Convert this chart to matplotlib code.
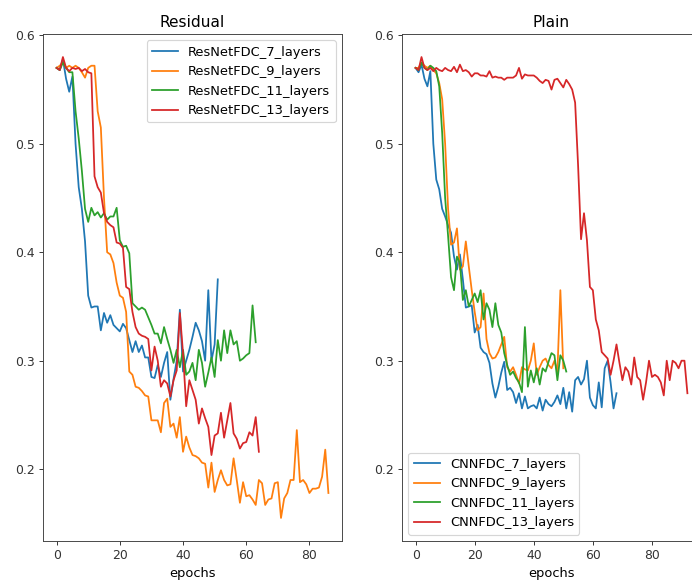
import matplotlib
matplotlib.use("Agg")
import matplotlib.pyplot as plt

# ---------------- data ----------------
res_7 = [0.570, 0.568, 0.578, 0.560, 0.548, 0.562, 0.500, 0.460, 0.440, 0.410,
         0.360, 0.349, 0.350, 0.350, 0.328, 0.344, 0.335, 0.342, 0.333, 0.330,
         0.327, 0.334, 0.330, 0.319, 0.308, 0.318, 0.308, 0.314, 0.303, 0.303,
         0.285, 0.284, 0.296, 0.285, 0.298, 0.308, 0.264, 0.283, 0.300, 0.347,
         0.290, 0.300, 0.310, 0.322, 0.335, 0.328, 0.318, 0.300, 0.365, 0.300,
         0.315, 0.375]

res_9 = [0.570, 0.572, 0.575, 0.570, 0.572, 0.570, 0.572, 0.570, 0.566, 0.561,
         0.570, 0.572, 0.572, 0.530, 0.515, 0.450, 0.400, 0.398, 0.390, 0.372,
         0.360, 0.358, 0.345, 0.290, 0.287, 0.276, 0.275, 0.272, 0.268, 0.267,
         0.245, 0.245, 0.245, 0.234, 0.261, 0.265, 0.239, 0.242, 0.229, 0.248,
         0.216, 0.230, 0.220, 0.213, 0.212, 0.210, 0.206, 0.205, 0.183, 0.206,
         0.179, 0.190, 0.199, 0.190, 0.185, 0.186, 0.210, 0.190, 0.169, 0.188,
         0.175, 0.176, 0.172, 0.167, 0.190, 0.187, 0.167, 0.172, 0.173, 0.187,
         0.188, 0.155, 0.173, 0.178, 0.190, 0.190, 0.236, 0.188, 0.190, 0.186,
         0.178, 0.182, 0.182, 0.183, 0.193, 0.218, 0.178]

res_11 = [0.570, 0.568, 0.575, 0.570, 0.566, 0.566, 0.530, 0.505, 0.475, 0.440,
          0.428, 0.441, 0.434, 0.437, 0.432, 0.436, 0.430, 0.433, 0.433, 0.441,
          0.411, 0.405, 0.406, 0.399, 0.353, 0.350, 0.347, 0.349, 0.347, 0.340,
          0.333, 0.325, 0.325, 0.316, 0.331, 0.320, 0.310, 0.298, 0.310, 0.294,
          0.310, 0.287, 0.290, 0.298, 0.282, 0.310, 0.298, 0.276, 0.289, 0.303,
          0.285, 0.319, 0.300, 0.328, 0.307, 0.328, 0.315, 0.318, 0.300, 0.302,
          0.305, 0.307, 0.351, 0.317]

res_13 = [0.570, 0.568, 0.580, 0.570, 0.567, 0.570, 0.569, 0.570, 0.567, 0.569,
          0.566, 0.565, 0.470, 0.460, 0.455, 0.436, 0.428, 0.425, 0.423, 0.409,
          0.408, 0.404, 0.368, 0.366, 0.345, 0.331, 0.325, 0.323, 0.322, 0.320,
          0.291, 0.313, 0.300, 0.276, 0.282, 0.279, 0.267, 0.282, 0.291, 0.344,
          0.307, 0.258, 0.282, 0.273, 0.264, 0.242, 0.256, 0.247, 0.239, 0.213,
          0.231, 0.233, 0.252, 0.229, 0.245, 0.261, 0.233, 0.228, 0.219, 0.224,
          0.225, 0.234, 0.231, 0.248, 0.216]

cnn_7 = [0.570, 0.566, 0.573, 0.560, 0.553, 0.567, 0.500, 0.467, 0.458, 0.440,
         0.433, 0.425, 0.418, 0.396, 0.384, 0.398, 0.375, 0.349, 0.350, 0.351,
         0.326, 0.333, 0.312, 0.308, 0.306, 0.298, 0.279, 0.266, 0.276, 0.289,
         0.299, 0.273, 0.275, 0.271, 0.261, 0.270, 0.256, 0.267, 0.256, 0.258,
         0.259, 0.256, 0.266, 0.254, 0.264, 0.260, 0.258, 0.262, 0.268, 0.260,
         0.275, 0.256, 0.271, 0.253, 0.282, 0.285, 0.278, 0.283, 0.300, 0.266,
         0.259, 0.256, 0.280, 0.257, 0.293, 0.300, 0.280, 0.256, 0.270]

cnn_9 = [0.570, 0.570, 0.575, 0.572, 0.570, 0.572, 0.568, 0.565, 0.556, 0.541,
         0.500, 0.440, 0.407, 0.409, 0.422, 0.384, 0.387, 0.410, 0.387, 0.365,
         0.345, 0.328, 0.331, 0.362, 0.320, 0.307, 0.302, 0.303, 0.308, 0.315,
         0.322, 0.294, 0.290, 0.294, 0.287, 0.279, 0.294, 0.292, 0.291, 0.300,
         0.316, 0.287, 0.294, 0.300, 0.302, 0.296, 0.293, 0.300, 0.290, 0.365,
         0.293]

cnn_11 = [0.570, 0.568, 0.575, 0.570, 0.568, 0.572, 0.570, 0.567, 0.553, 0.510,
          0.450, 0.415, 0.377, 0.365, 0.396, 0.390, 0.356, 0.365, 0.350, 0.356,
          0.362, 0.354, 0.365, 0.338, 0.353, 0.347, 0.331, 0.353, 0.333, 0.326,
          0.307, 0.296, 0.287, 0.290, 0.284, 0.280, 0.271, 0.331, 0.276, 0.291,
          0.280, 0.293, 0.278, 0.293, 0.290, 0.299, 0.307, 0.305, 0.282, 0.305,
          0.300, 0.290]

cnn_13 = [0.570, 0.568, 0.580, 0.570, 0.568, 0.570, 0.567, 0.570, 0.568, 0.567,
          0.570, 0.568, 0.567, 0.571, 0.566, 0.573, 0.567, 0.568, 0.566, 0.562,
          0.565, 0.565, 0.563, 0.563, 0.562, 0.567, 0.561, 0.562, 0.561, 0.561,
          0.559, 0.561, 0.561, 0.561, 0.563, 0.570, 0.560, 0.564, 0.563, 0.563,
          0.563, 0.561, 0.558, 0.556, 0.559, 0.558, 0.550, 0.559, 0.560, 0.556,
          0.552, 0.559, 0.555, 0.550, 0.538, 0.480, 0.412, 0.436, 0.411, 0.368,
          0.365, 0.338, 0.328, 0.308, 0.305, 0.302, 0.287, 0.300, 0.315, 0.298,
          0.282, 0.294, 0.290, 0.278, 0.303, 0.285, 0.282, 0.264, 0.280, 0.300,
          0.285, 0.287, 0.285, 0.280, 0.268, 0.300, 0.282, 0.300, 0.298, 0.293,
          0.300, 0.300, 0.270]

residual_series = [res_7, res_9, res_11, res_13]
residual_labels = ["ResNetFDC_7_layers", "ResNetFDC_9_layers",
                   "ResNetFDC_11_layers", "ResNetFDC_13_layers"]
plain_series = [cnn_7, cnn_9, cnn_11, cnn_13]
plain_labels = ["CNNFDC_7_layers", "CNNFDC_9_layers",
                "CNNFDC_11_layers", "CNNFDC_13_layers"]

# ---------------- figure ----------------
DPI = 85
fig = plt.figure(figsize=(692 / DPI, 582 / DPI), dpi=DPI)

W, H = 692.0, 582.0
ax1 = fig.add_axes([43 / W, (H - 541) / H, 299 / W, 507 / H])
ax2 = fig.add_axes([402 / W, (H - 541) / H, 299 / W, 507 / H], sharey=ax1)

for s, lab in zip(residual_series, residual_labels):
    ax1.plot(range(len(s)), s, label=lab)
ax1.set_title("Residual", fontsize=13)
ax1.set_xlabel("epochs", fontsize=11)
ax1.legend(loc="upper right", fontsize=11)

for s, lab in zip(plain_series, plain_labels):
    ax2.plot(range(len(s)), s, label=lab)
ax2.set_title("Plain", fontsize=13)
ax2.set_xlabel("epochs", fontsize=11)
ax2.legend(loc="lower left", fontsize=11)

for ax in (ax1, ax2):
    ax.set_xticks([0, 20, 40, 60, 80])
    ax.tick_params(labelsize=10.5, labelleft=True, colors="#333333")
    for sp in ax.spines.values():
        sp.set_color("#444444")
ax1.set_yticks([0.2, 0.3, 0.4, 0.5, 0.6])

fig.savefig("out.png", dpi=DPI)
